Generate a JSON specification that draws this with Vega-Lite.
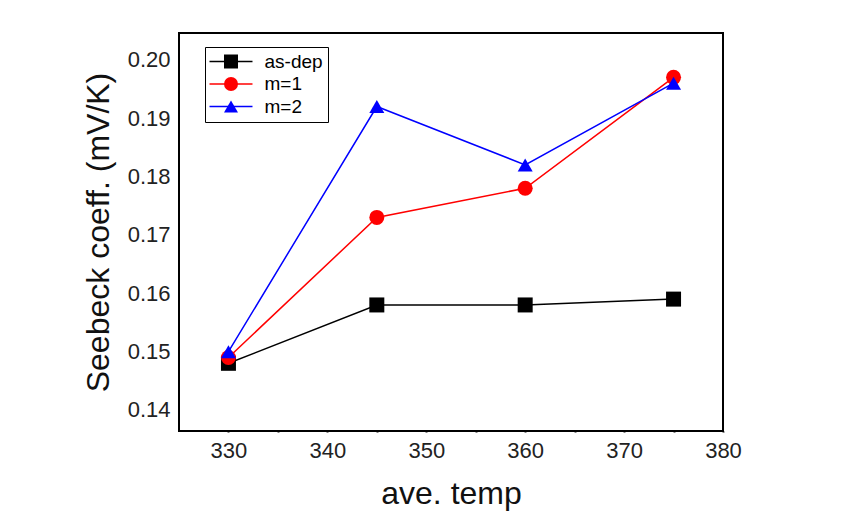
{
  "$schema": "https://vega.github.io/schema/vega-lite/v6.json",
  "width": 544,
  "height": 398,
  "autosize": {"type": "none"},
  "padding": {"left": 179, "top": 33, "right": 135, "bottom": 93},
  "background": "white",
  "config": {
    "view": {"stroke": "black", "strokeWidth": 2},
    "font": "Liberation Sans",
    "axis": {"grid": false, "domain": false, "labelFont": "Liberation Sans", "titleFont": "Liberation Sans", "labelColor": "#222", "titleColor": "#111", "labelFontSize": 22, "titleFontSize": 32, "titleFontWeight": "normal", "tickColor": "black", "tickWidth": 2, "tickSize": 1}
  },
  "data": {"values": [
    {"temp": 330, "S": 0.148, "series": "as-dep"},
    {"temp": 345, "S": 0.158, "series": "as-dep"},
    {"temp": 360, "S": 0.158, "series": "as-dep"},
    {"temp": 375, "S": 0.159, "series": "as-dep"},
    {"temp": 330, "S": 0.149, "series": "m=1"},
    {"temp": 345, "S": 0.173, "series": "m=1"},
    {"temp": 360, "S": 0.178, "series": "m=1"},
    {"temp": 375, "S": 0.197, "series": "m=1"},
    {"temp": 330, "S": 0.150, "series": "m=2"},
    {"temp": 345, "S": 0.192, "series": "m=2"},
    {"temp": 360, "S": 0.182, "series": "m=2"},
    {"temp": 375, "S": 0.196, "series": "m=2"}
  ]},
  "encoding": {
    "x": {"field": "temp", "type": "quantitative",
      "scale": {"domain": [325, 380], "nice": false, "zero": false},
      "axis": {"title": "ave. temp", "values": [330, 335, 340, 345, 350, 355, 360, 365, 370, 375, 380],
        "labelExpr": "datum.value % 10 === 0 ? datum.label : ''",
        "labelPadding": 8, "titlePadding": 17, "labelFlush": false,
        "encode": {"ticks": {"y2": {"value": {"expr": "datum.value % 10 === 0 ? -8 : -4"}}}}}},
    "y": {"field": "S", "type": "quantitative",
      "scale": {"domain": [0.1364, 0.2046], "nice": false, "zero": false},
      "axis": {"title": "Seebeck coeff. (mV/K)", "values": [0.14, 0.145, 0.15, 0.155, 0.16, 0.165, 0.17, 0.175, 0.18, 0.185, 0.19, 0.195, 0.2],
        "format": ".2f",
        "labelExpr": "abs(datum.value*100 - round(datum.value*100)) < 0.01 ? datum.label : ''",
        "labelPadding": 8, "titlePadding": 12, "labelFlush": false,
        "encode": {"ticks": {"x2": {"value": {"expr": "abs(datum.value*100 - round(datum.value*100)) < 0.01 ? 8 : 4"}}}}}}
  },
  "layer": [
    {"mark": {"type": "line", "strokeWidth": 1.5},
      "encoding": {"stroke": {"field": "series", "type": "nominal",
        "scale": {"domain": ["m=2", "m=1", "as-dep"], "range": ["#0000ff", "#ff0000", "#000000"]},
        "legend": {"title": null, "orient": "none", "legendX": 26, "legendY": 14,
          "values": ["as-dep", "m=1", "m=2"],
          "strokeColor": "black", "fillColor": "white", "padding": 5,
          "labelFont": "Liberation Sans", "labelFontSize": 19, "labelColor": "black",
          "symbolType": "M-3.07,0H3.07", "symbolSize": 196, "symbolStrokeWidth": 1.4,
          "symbolOffset": 11.5, "labelOffset": 24, "rowPadding": 2.5}}}},
    {"mark": {"type": "point", "filled": true, "opacity": 1, "size": 225},
      "encoding": {
        "color": {"field": "series", "type": "nominal",
          "scale": {"domain": ["as-dep", "m=1", "m=2"], "range": ["#000000", "#ff0000", "#0000ff"]},
          "legend": {"title": null, "orient": "none", "legendX": 26, "legendY": 14,
            "strokeColor": null, "fillColor": null, "padding": 5,
            "labelFont": "Liberation Sans", "labelFontSize": 19, "labelColor": "black", "labelOpacity": 0,
            "symbolSize": 196, "symbolOffset": 11.5, "labelOffset": 24, "rowPadding": 2.5}},
        "shape": {"field": "series", "type": "nominal", "scale": {"domain": ["as-dep", "m=1", "m=2"], "range": ["square", "circle", "triangle-up"]}, "legend": null}
      }}
  ]
}
